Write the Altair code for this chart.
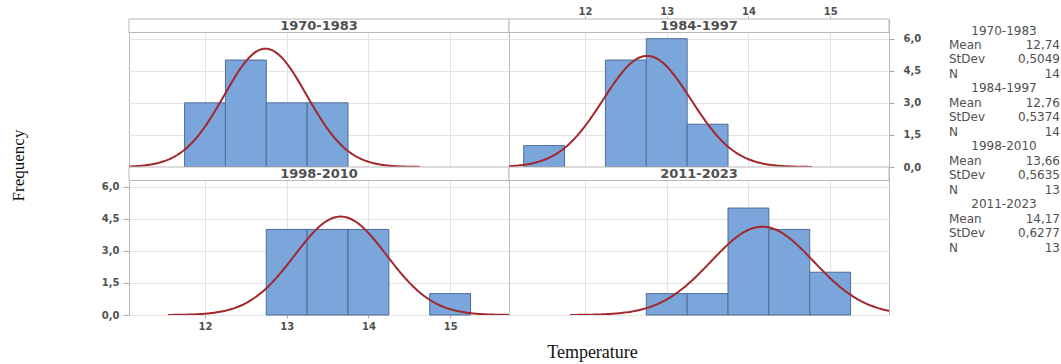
import altair as alt
import pandas as pd
import numpy as np

# ---------------- data ----------------
PERIODS = ["1970-1983", "1984-1997", "1998-2010", "2011-2023"]
BIN_STARTS = [
    [11.75, 12.25, 12.75, 13.25],
    [11.25, 12.25, 12.75, 13.25],
    [12.75, 13.25, 13.75, 14.75],
    [12.75, 13.25, 13.75, 14.25, 14.75],
]
COUNTS = [
    [3, 5, 3, 3],
    [1, 5, 6, 2],
    [4, 4, 4, 1],
    [1, 1, 5, 4, 2],
]
MEANS = [12.74, 12.76, 13.66, 14.17]
STDEVS = [0.5049, 0.5374, 0.5635, 0.6277]
NS = [14, 14, 13, 13]
BIN_WIDTH = 0.5
X_TICKS = [12, 13, 14, 15]
Y_TICKS = [0, 1.5, 3, 4.5, 6]

# ---------------- layout / style ----------------
XMIN, XMAX = 11.07, 15.72
YMAX = 6.92
STRIP_Y = 6.29
W, H = 380, 148

BAR_FILL = "#7aa6db"
BAR_EDGE = "#4f6d94"
CURVE = "#a3282d"
FRAME = "#b8b8b8"
GRID = "#e4e4e4"
TEXT = "#505050"
SANS = "DejaVu Sans"
SERIF = "Liberation Serif"

XS = alt.Scale(domain=[XMIN, XMAX], nice=False, zero=False)
YS = alt.Scale(domain=[0, YMAX], nice=False, zero=False)

COMMA = "replace(format(datum.value, '.1f'), '.', ',')"


def dec(v, n):
    return f"{v:.{n}f}".replace(".", ",")


def hidden_x(**kw):
    kw.setdefault("title", None)
    return alt.Axis(values=X_TICKS, labels=False, ticks=False, domain=False,
                    grid=True, **kw)


def hidden_y():
    return alt.Axis(values=Y_TICKS, labels=False, ticks=False, domain=False,
                    grid=True, title=None)


def panel(i, xaxis, yaxis, extra=None):
    starts = BIN_STARTS[i]
    bars_df = pd.DataFrame({
        "start": starts,
        "end": [s + BIN_WIDTH for s in starts],
        "count": COUNTS[i],
        "base": [0] * len(starts),
    })
    m, s, n = MEANS[i], STDEVS[i], NS[i]
    xs = np.linspace(m - 3.75 * s, m + 3.75 * s, 240)
    ys = n * BIN_WIDTH * np.exp(-0.5 * ((xs - m) / s) ** 2) / (s * np.sqrt(2 * np.pi))
    curve_df = pd.DataFrame({"x": xs, "y": ys})
    strip_df = pd.DataFrame({
        "x1": [XMIN], "x2": [XMAX], "y1": [STRIP_Y], "y2": [YMAX],
        "xm": [(XMIN + XMAX) / 2], "ym": [(STRIP_Y + YMAX) / 2],
        "label": [PERIODS[i]],
    })

    bars = alt.Chart(bars_df).mark_rect(
        fill=BAR_FILL, stroke=BAR_EDGE, strokeWidth=1
    ).encode(
        x=alt.X("start:Q", scale=XS, axis=xaxis),
        x2="end:Q",
        y=alt.Y("count:Q", scale=YS, axis=yaxis),
        y2="base:Q",
    )
    line = alt.Chart(curve_df).mark_line(
        color=CURVE, strokeWidth=2, clip=True
    ).encode(
        x=alt.X("x:Q", scale=XS, axis=xaxis),
        y=alt.Y("y:Q", scale=YS, axis=yaxis),
    )
    strip = alt.Chart(strip_df).mark_rect(
        fill="white", stroke=FRAME, strokeWidth=1
    ).encode(
        x=alt.X("x1:Q", scale=XS, axis=xaxis), x2="x2:Q",
        y=alt.Y("y1:Q", scale=YS, axis=yaxis), y2="y2:Q",
    )
    label = alt.Chart(strip_df).mark_text(
        font=SANS, fontSize=13, fontWeight="bold", color=TEXT,
        baseline="middle", align="center", dy=0.5
    ).encode(
        x=alt.X("xm:Q", scale=XS, axis=xaxis),
        y=alt.Y("ym:Q", scale=YS, axis=yaxis),
        text="label:N",
    )
    layers = [bars, line, strip, label]
    if extra:
        layers += extra
    return alt.layer(*layers).properties(width=W, height=H)


# ---------------- statistics legend (right side) ----------------
one = pd.DataFrame({"a": [0]})
LH = 14.47
Y0 = 15.5
leg_style = dict(font=SANS, fontSize=12, color=TEXT, baseline="alphabetic",
                 lineBreak="\n", lineHeight=LH)
legend = []
for k, (p, m, s, n) in enumerate(zip(PERIODS, MEANS, STDEVS, NS)):
    y0 = Y0 + 4 * k * LH
    legend.append(alt.Chart(one).mark_text(align="center", **leg_style).encode(
        x=alt.value(495), y=alt.value(y0), text=alt.value(p)))
    legend.append(alt.Chart(one).mark_text(align="left", **leg_style).encode(
        x=alt.value(440), y=alt.value(y0 + LH),
        text=alt.value("\n".join(["Mean", "StDev", "N"]))))
    legend.append(alt.Chart(one).mark_text(align="right", **leg_style).encode(
        x=alt.value(551), y=alt.value(y0 + LH),
        text=alt.value("\n".join([dec(m, 2), dec(s, 4), str(n)]))))

# ---------------- axes per panel ----------------
tl = panel(0, hidden_x(), hidden_y())

tr = panel(
    1,
    alt.Axis(orient="top", values=X_TICKS, tickSize=3, labelPadding=0,
             domain=False, grid=True, title=None, format="d"),
    alt.Axis(orient="right", values=Y_TICKS, tickSize=5, labelPadding=9,
             domain=False, grid=True, title=None, labelExpr=COMMA),
    extra=legend,
)

bl = panel(
    2,
    alt.Axis(orient="bottom", values=X_TICKS, tickSize=3, labelPadding=3,
             domain=False, grid=True, title=None, format="d"),
    alt.Axis(orient="left", values=Y_TICKS, tickSize=6, labelPadding=4,
             domain=False, grid=True, labelExpr=COMMA,
             title="Frequency", titleX=-111, titleY=-2, titleAngle=270,
             titleAlign="center", titleBaseline="middle", titleFont=SERIF,
             titleFontSize=17, titleFontWeight="normal", titleColor="#111111"),
)

br = panel(
    3,
    hidden_x(title="Temperature", titleX=83, titleY=37, titleAngle=0,
             titleAlign="center", titleBaseline="middle", titleFont=SERIF,
             titleFontSize=18, titleFontWeight="normal", titleColor="#111111"),
    hidden_y(),
)

chart = alt.concat(tl, tr, bl, br, columns=2, spacing=0, bounds="flush").properties(
    padding={"left": 8, "top": 5, "right": 0, "bottom": 0}
).configure_view(
    stroke=FRAME, strokeWidth=1
).configure_axis(
    gridColor=GRID, gridWidth=1, tickColor="#a8a8a8",
    labelColor=TEXT, labelFont=SANS, labelFontWeight="bold", labelFontSize=10,
)

chart.save("out.html", embed_options={"renderer": "svg", "actions": False})
